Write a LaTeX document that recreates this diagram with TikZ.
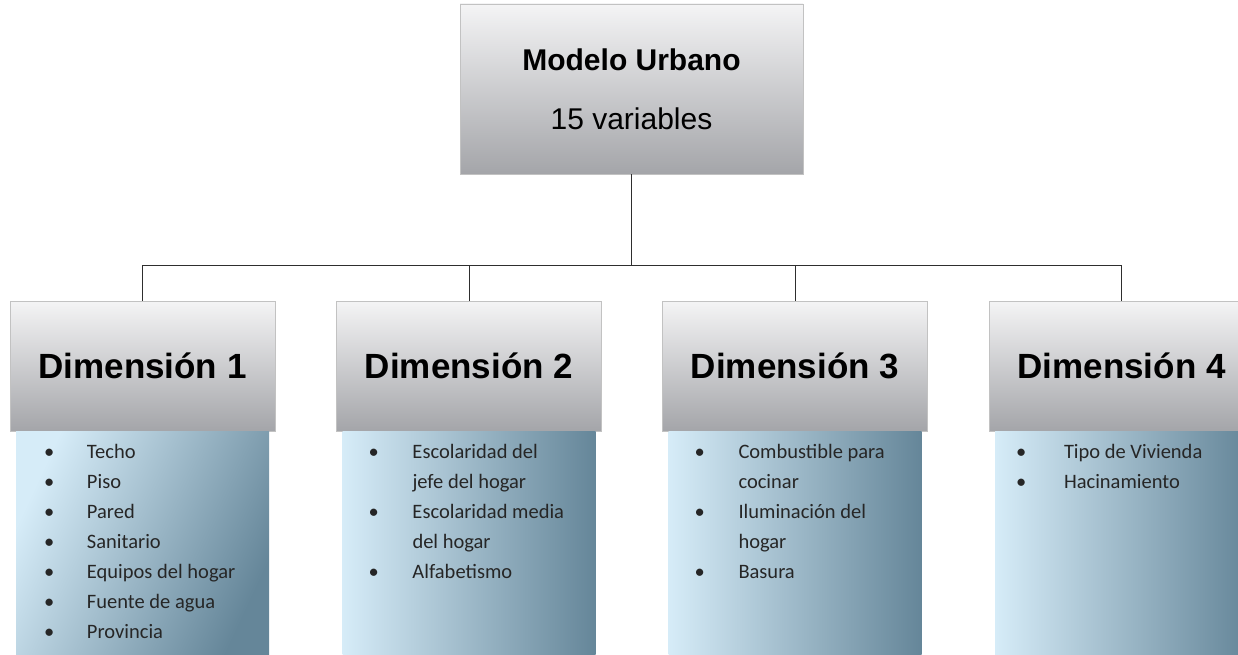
\documentclass[tikz,border=0pt]{standalone}
\usepackage{fontspec}
\setmainfont{Liberation Sans}
\newfontfamily\listfont{Carlito}
\usetikzlibrary{positioning}
\definecolor{headtop}{HTML}{F4F4F5}
\definecolor{headbot}{HTML}{A4A5A9}
\definecolor{listleft}{HTML}{D6ECF8}
\definecolor{listright}{HTML}{658699}
\definecolor{edgegray}{HTML}{C2C2C2}
\definecolor{linegray}{HTML}{2E2E2E}
\newcommand{\itemrow}[1]{\textbullet & #1\\}
\newcommand{\morerow}[1]{ & #1\\}

\begin{document}
\begin{tikzpicture}[x=1pt,y=-1pt,
    head/.style={draw=edgegray,top color=headtop,bottom color=headbot,
      minimum width=265pt,minimum height=130pt,inner sep=0pt,
      font=\bfseries\fontsize{35}{42}\selectfont},
    listbox/.style={left color=listleft,right color=listright,
      minimum width=253pt,minimum height=223pt,inner sep=0pt},
    items/.style={anchor=north west,inner sep=0pt,text=black!85,
      font=\listfont\fontsize{20.5}{30}\selectfont},
    link/.style={draw=linegray,line width=0.8pt}]
  \useasboundingbox (0,0) rectangle (1238,655);
  % top box
  \node[head,minimum width=343pt,minimum height=170pt,align=center,
    font=\fontsize{30}{59}\selectfont] (top) at (631.5,89)
    {\textbf{Modelo Urbano}\\15 variables};
  % dimension heads
  \node[head] (d1) at (142.5,366) {Dimensión 1};
  \node[head] (d2) at (469,366) {Dimensión 2};
  \node[head] (d3) at (795,366) {Dimensión 3};
  \node[head] (d4) at (1121.5,366) {Dimensión 4};
  % lists below the heads
  \node[listbox,below=0pt of d1,shading angle=65] (l1) {};
  \node[listbox,below=0pt of d2] (l2) {};
  \node[listbox,below=0pt of d3] (l3) {};
  \node[listbox,below=0pt of d4] (l4) {};
  \node[items,below right=6pt and 28pt of l1.north west] (t1) {%
    \begin{tabular}{@{}p{43pt}@{}l@{}}
      \itemrow{Techo}
      \itemrow{Piso}
      \itemrow{Pared}
      \itemrow{Sanitario}
      \itemrow{Equipos del hogar}
      \itemrow{Fuente de agua}
      \itemrow{Provincia}
    \end{tabular}};
  \node[items,below right=6pt and 26pt of l2.north west] (t2) {%
    \begin{tabular}{@{}p{44pt}@{}l@{}}
      \itemrow{Escolaridad del}
      \morerow{jefe del hogar}
      \itemrow{Escolaridad media}
      \morerow{del hogar}
      \itemrow{Alfabetismo}
    \end{tabular}};
  \node[items,below right=6pt and 26pt of l3.north west] (t3) {%
    \begin{tabular}{@{}p{44pt}@{}l@{}}
      \itemrow{Combustible para}
      \morerow{cocinar}
      \itemrow{Iluminación del}
      \morerow{hogar}
      \itemrow{Basura}
    \end{tabular}};
  \node[items,below right=6pt and 21pt of l4.north west] (t4) {%
    \begin{tabular}{@{}p{48pt}@{}l@{}}
      \itemrow{Tipo de Vivienda}
      \itemrow{Hacinamiento}
    \end{tabular}};
  % connectors
  \coordinate (bus) at (631.5,265);
  \draw[link] (top.south) -- (bus);
  \draw[link] (bus) -| (d1.north);
  \draw[link] (bus) -| (d2.north);
  \draw[link] (bus) -| (d3.north);
  \draw[link] (bus) -| (d4.north);
\end{tikzpicture}
\end{document}
